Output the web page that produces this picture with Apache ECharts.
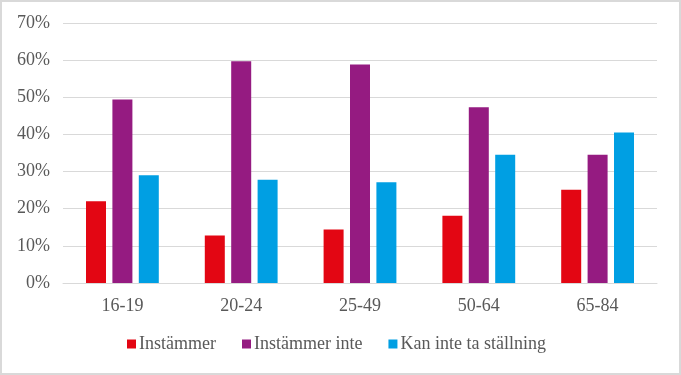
<!DOCTYPE html>
<html>
<head>
<meta charset="utf-8">
<script src="https://cdn.jsdelivr.net/npm/echarts@6/dist/echarts.min.js"></script>
<style>
html,body{margin:0;padding:0;background:#fff;}
#c{width:681px;height:375px;box-sizing:border-box;border:2px solid #d9d9d9;}
</style>
</head>
<body>
<div id="c"></div>
<script>
const categories = ['16-19','20-24','25-49','50-64','65-84'];
const seriesNames = ['Instämmer','Instämmer inte','Kan inte ta ställning'];
const instammer = [22.0, 12.8, 14.4, 18.1, 25.1];
const instammerInte = [49.4, 59.7, 58.8, 47.3, 34.5];
const kanInte = [29.0, 27.8, 27.1, 34.5, 40.5];
const colors = ['#e30613','#951b81','#009fe3'];
const font = '"Liberation Serif","Times New Roman",serif';

const chart = echarts.init(document.getElementById('c'), null, {renderer:'canvas'});
const values = [instammer, instammerInte, kanInte];
chart.setOption({
  animation:false,
  textStyle:{fontFamily:font},
  grid:{left:61,right:22,top:21,bottom:90,containLabel:false},
  legend:{
    left:125, top:333, padding:0, itemWidth:9, itemHeight:9, itemGap:26,
    icon:'rect',
    textStyle:{fontFamily:font,fontSize:18,color:'#595959',padding:[0,0,0,-2]},
    data:seriesNames
  },
  xAxis:{
    type:'category', data:categories,
    axisLine:{lineStyle:{color:'#d9d9d9'}},
    axisTick:{show:false},
    axisLabel:{fontFamily:font,fontSize:18,color:'#595959',margin:14}
  },
  yAxis:{
    type:'value', min:0, max:70, interval:10,
    axisLine:{show:false}, axisTick:{show:false},
    splitLine:{lineStyle:{color:'#d9d9d9'}},
    axisLabel:{fontFamily:font,fontSize:18,color:'#595959',margin:13,formatter:'{value}%'}
  },
  series: seriesNames.map((n,i)=>({
    name:n, type:'bar', data:values[i], barWidth:20, barGap:'32%',
    itemStyle:{color:colors[i]}
  }))
});
</script>
</body>
</html>
